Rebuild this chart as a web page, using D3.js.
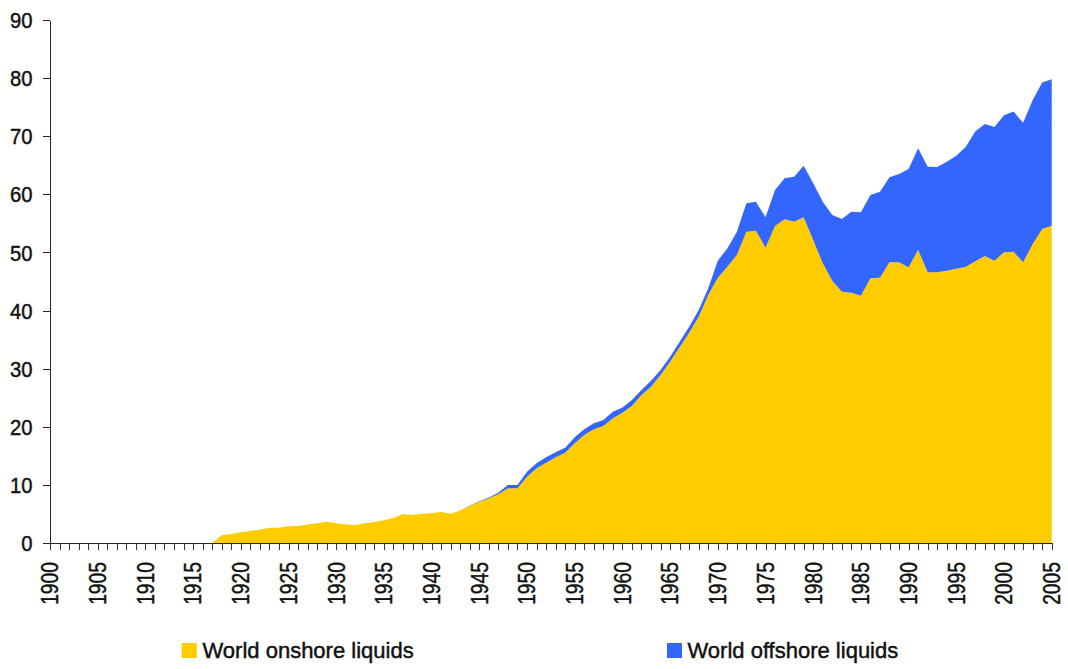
<!DOCTYPE html>
<html>
<head>
<meta charset="utf-8">
<script src="https://cdn.jsdelivr.net/npm/d3@7"></script>
<style>
  html, body { margin: 0; padding: 0; background: #fff; }
  svg { display: block; }
  text { font-family: "Liberation Sans", Arial, sans-serif; fill: #111; stroke: #111; stroke-width: 0.45px; }
</style>
</head>
<body>
<svg id="chart" width="1068" height="669"></svg>
<script>
// ---- Data (million barrels per day) ----
const years = d3.range(1900, 2006);

const onshore = [
  // 1900-1909
  0, 0, 0, 0, 0, 0, 0, 0, 0, 0,
  // 1910-1919
  0, 0, 0, 0, 0, 0, 0, 0, 1.32, 1.55,
  // 1920-1929
  1.84, 2.06, 2.3, 2.64, 2.64, 2.87, 2.93, 3.2, 3.38, 3.67,
  // 1930-1939
  3.38, 3.2, 3.1, 3.38, 3.6, 3.9, 4.3, 4.99, 4.82, 5.05,
  // 1940-1949
  5.1, 5.33, 5.05, 5.6, 6.4, 7.1, 7.7, 8.38, 9.41, 9.41,
  // 1950-1959
  11.41, 12.85, 13.82, 14.74, 15.55, 17.15, 18.58, 19.56, 20.13, 21.45,
  // 1960-1969
  22.4, 23.57, 25.47, 26.9, 28.9, 31.2, 33.7, 36.19, 38.95, 42.68,
  // 1970-1979
  45.66, 47.55, 49.56, 53.58, 53.75, 50.82, 54.55, 55.7, 55.3, 56.04,
  // 1980-1989
  52.14, 48.13, 45.14, 43.25, 43.08, 42.56, 45.55, 45.66, 48.3, 48.3,
  // 1990-1999
  47.44, 50.42, 46.58, 46.58, 46.87, 47.21, 47.55, 48.47, 49.39, 48.59,
  // 2000-2005
  50.02, 50.14, 48.3, 51.4, 54.04, 54.61
];

const offshore = [
  // 1900-1909
  0, 0, 0, 0, 0, 0, 0, 0, 0, 0,
  // 1910-1919
  0, 0, 0, 0, 0, 0, 0, 0, 0, 0,
  // 1920-1929
  0, 0, 0, 0, 0, 0, 0, 0, 0, 0,
  // 1930-1939
  0, 0, 0, 0, 0, 0, 0, 0, 0, 0,
  // 1940-1949
  0, 0, 0, 0, 0.05, 0.08, 0.12, 0.28, 0.57, 0.57,
  // 1950-1959
  0.86, 0.86, 0.92, 0.86, 0.85, 1.04, 0.98, 1.04, 1.04, 1.15,
  // 1960-1969
  0.9, 1.03, 0.86, 1.0, 0.87, 0.86, 0.94, 1.03, 1.15, 1.15,
  // 1970-1979
  2.93, 3.15, 4.02, 4.87, 4.99, 5.22, 6.2, 7.05, 7.74, 8.89,
  // 1980-1989
  9.76, 10.61, 11.3, 12.51, 13.94, 14.34, 14.34, 14.8, 14.63, 15.2,
  // 1990-1999
  16.92, 17.5, 18.18, 18.12, 18.75, 19.44, 20.65, 22.4, 22.7, 23.0,
  // 2000-2005
  23.6, 24.1, 24.0, 24.8, 25.2, 25.2
];

const seriesNames = ["World onshore liquids", "World offshore liquids"];
const seriesColors = ["#FFCC00", "#3366FF"];
const yTicks = [0, 10, 20, 30, 40, 50, 60, 70, 80, 90];
const xLabelYears = d3.range(1900, 2006, 5);

// ---- Font detection: use a narrow face if installed ----
function hasFont(name) {
  const c = document.createElement("canvas").getContext("2d");
  c.font = "40px monospace";
  const base = c.measureText("1900 World 90").width;
  c.font = `40px '${name}', monospace`;
  return Math.abs(c.measureText("1900 World 90").width - base) > 0.5;
}
const narrow = hasFont("Liberation Sans Narrow");
const axisFont = narrow ? "'Liberation Sans Narrow', 'Liberation Sans', sans-serif" : "'Liberation Sans', Arial, sans-serif";
const xScaleText = narrow ? 1 : 0.82;
const yScaleText = narrow ? 1 : 0.9;

// ---- Layout ----
const svg = d3.select("#chart");
const x = d3.scaleLinear().domain([1900, 2005]).range([50, 1051.7]);
const y = d3.scaleLinear().domain([0, 90]).range([543, 20]);

const table = years.map((yr, i) => ({ year: yr, on: onshore[i], off: offshore[i] }));
const stack = d3.stack().keys(["on", "off"]);
const layers = stack(table);

const area = d3.area()
  .x(d => x(d.data.year))
  .y0(d => y(d[0]))
  .y1(d => y(d[1]));

svg.append("g").selectAll("path")
  .data(layers)
  .join("path")
  .attr("d", area)
  .attr("fill", (d, i) => seriesColors[i]);

// ---- Y axis ----
const yAxis = d3.axisLeft(y).tickValues(yTicks).tickSize(7).tickSizeOuter(0).tickFormat("");
const gy = svg.append("g").attr("transform", "translate(50,0)").call(yAxis);
gy.select(".domain").attr("stroke", "#222").attr("shape-rendering", "crispEdges");
gy.selectAll(".tick line").attr("stroke", "#222").attr("shape-rendering", "crispEdges");

svg.append("g").selectAll("text")
  .data(yTicks)
  .join("text")
  .attr("transform", d => `translate(32.5,${y(d)}) scale(${yScaleText},1)`)
  .attr("dy", "0.36em")
  .attr("text-anchor", "end")
  .style("font-family", axisFont)
  .style("font-size", "22.5px")
  .text(d => d);

// ---- X axis ----
const xAxis = d3.axisBottom(x).tickValues(years).tickSize(7).tickSizeOuter(0).tickFormat("");
const gx = svg.append("g").attr("transform", "translate(0,543)").call(xAxis);
gx.select(".domain").attr("stroke", "#222").attr("shape-rendering", "crispEdges");
gx.selectAll(".tick line").attr("stroke", "#333").attr("shape-rendering", "crispEdges");

svg.append("g").selectAll("text")
  .data(xLabelYears)
  .join("text")
  .attr("transform", d => `translate(${x(d)},562) rotate(-90) scale(${xScaleText},1)`)
  .attr("y", 8.3)
  .attr("text-anchor", "end")
  .style("font-family", axisFont)
  .style("font-size", "23.5px")
  .text(d => d);

// ---- Legend ----
const legendPos = [{ sq: 181.7, tx: 202.5 }, { sq: 667, tx: 687.5 }];
const lg = svg.append("g").selectAll("g")
  .data(seriesNames)
  .join("g");
lg.append("rect")
  .attr("x", (d, i) => legendPos[i].sq)
  .attr("y", 643)
  .attr("width", 15)
  .attr("height", 15)
  .attr("fill", (d, i) => seriesColors[i]);
lg.append("text")
  .attr("x", (d, i) => legendPos[i].tx)
  .attr("y", 658)
  .style("font-size", "22px")
  .text(d => d);
</script>
</body>
</html>
